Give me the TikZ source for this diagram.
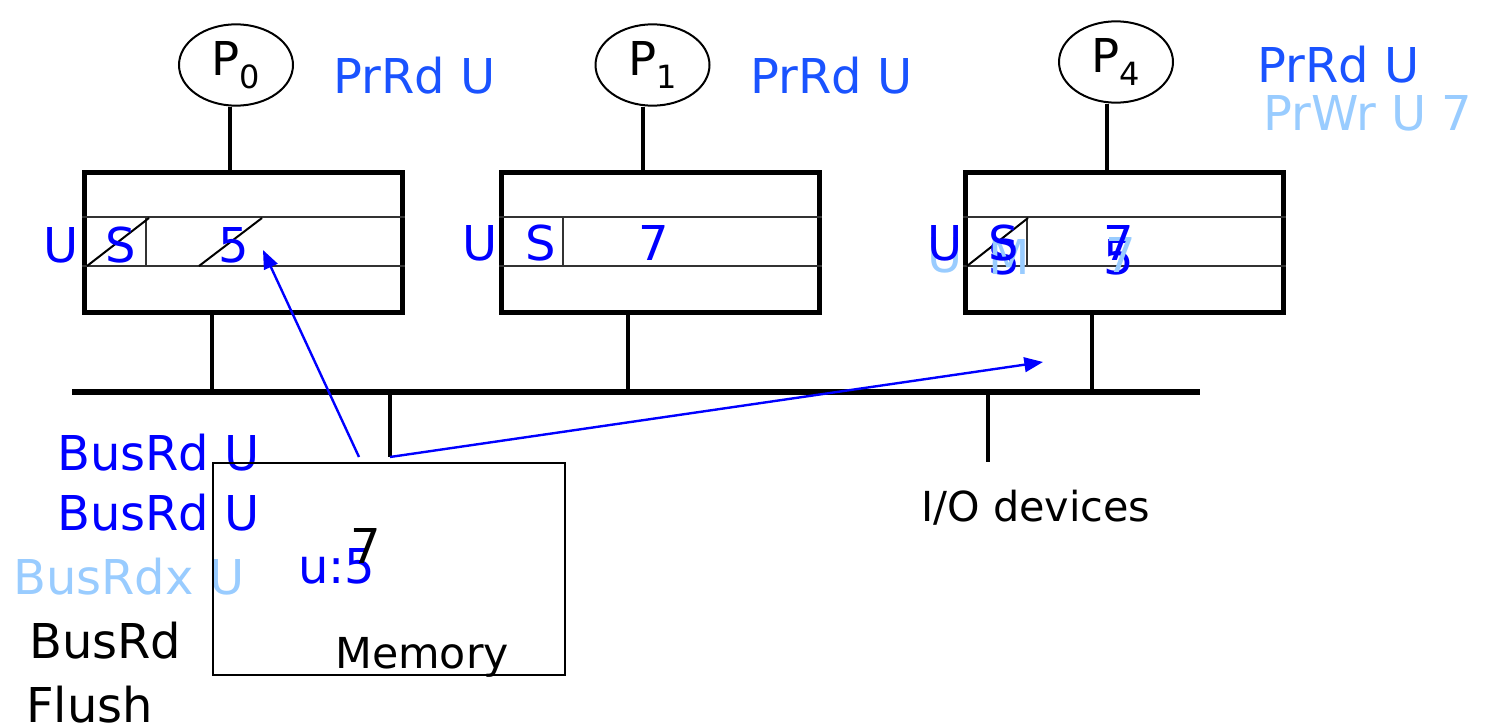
\documentclass[tikz,border=0pt]{standalone}
\usepackage{fontspec}
\setmainfont{DejaVu Sans}
\usetikzlibrary{shapes.geometric,arrows.meta}
\definecolor{stblue}{HTML}{0000FF}
\definecolor{opblue}{HTML}{1A53FF}
\definecolor{oldblue}{HTML}{99CCFF}
\newcommand{\psub}[1]{\raisebox{-9.75pt}{\fontsize{24}{26}\selectfont #1}}
\tikzset{
  proc/.style={draw,ellipse,line width=1.5pt,minimum width=85.5pt,minimum height=61pt,inner sep=0pt,font=\fontsize{35}{37}\selectfont},
  cache/.style={draw,line width=4pt,minimum width=238.5pt,minimum height=105pt,inner sep=0pt},
  cacherow/.style={line width=1.5pt,black!80},
  wire/.style={line width=3pt},
  busline/.style={line width=4.5pt},
  txt/.style={anchor=base west,inner sep=0pt,font=\fontsize{36}{40}\selectfont},
  snoop/.style={-{Triangle[length=14pt,width=11pt]},stblue,line width=1.8pt},
}

\begin{document}
\begin{tikzpicture}[x=0.75pt,y=-0.75pt]
  \useasboundingbox (0,0) rectangle (1486,728);

  \node[proc] (p0) at (236,65) {P\psub{0}};
  \node[proc] (p1) at (652.5,65) {P\psub{1}};
  \node[proc] (p4) at (1116,62) {P\psub{4}};

  \node[cache] (c0) at (243.5,242.5) {};
  \node[cache] (c1) at (660.5,242.5) {};
  \node[cache] (c4) at (1124.5,242.5) {};

  \foreach \c in {c0,c1,c4}{
    \path (\c.west) ++(64,0) coordinate (\c d);
    \draw[cacherow] (\c.west |- 0,217) -- (\c.east |- 0,217);
    \draw[cacherow] (\c.west |- 0,266) -- (\c.east |- 0,266);
    \draw[cacherow] (\c d |- 0,217) -- (\c d |- 0,266);
  }
  \draw[cacherow,black] (87,266) -- (149,218);
  \draw[cacherow,black] (199,266) -- (262,218);
  \draw[cacherow,black] (967,266) -- (1028,218);

  \draw[wire] (p0.south -| 230,0) -- (c0.north -| 230,0);
  \draw[wire] (p1.south -| 643,0) -- (c1.north -| 643,0);
  \draw[wire] (p4.south -| 1107,0) -- (c4.north -| 1107,0);

  \node[txt,opblue] (rd0) at (333,93) {PrRd U};
  \node[txt,opblue] (rd1) at (750,93) {PrRd U};
  \node[txt,opblue] (rd4) at (1257,82) {PrRd U};
  \node[txt,oldblue] (wr4) at (1263,130) {PrWr U 7};

  \node[txt,stblue] (u0) at (43,262) {U};
  \node[txt,stblue] (s0) at (105,262) {S};
  \node[txt,stblue] (v0) at (218,262) {5};
  \node[txt,stblue] (u1) at (462,260) {U};
  \node[txt,stblue] (s1) at (525,260) {S};
  \node[txt,stblue] (v1) at (638,260) {7};

  \node[txt,stblue] (s4old) at (988,274) {S};
  \node[txt,stblue] (v4old) at (1103,274) {5};
  \node[txt,oldblue] (u4new) at (927,272) {U};
  \node[txt,oldblue] (m4new) at (988,274) {M};
  \node[txt,oldblue] (v4new) at (1105,272) {7};
  \node[txt,stblue] (u4) at (927,260) {U};
  \node[txt,stblue] (s4) at (988,260) {S};
  \node[txt,stblue] (v4) at (1103,260) {7};

  \coordinate (busL) at (72,392);
  \coordinate (busR) at (1200,392);
  \coordinate (b0) at (212,392);
  \coordinate (b1) at (628,392);
  \coordinate (b4) at (1092,392);
  \coordinate (bm) at (390,392);
  \coordinate (bio) at (988,392);
  \coordinate (mtap) at (390,457);
  \coordinate (iotap) at (988,462);
  \draw[busline] (busL) -- (busR);
  \draw[wire] (c0.south -| b0) -- (b0);
  \draw[wire] (c1.south -| b1) -- (b1);
  \draw[wire] (c4.south -| b4) -- (b4);
  \draw[wire] (bm) -- (mtap);
  \draw[wire] (bio) -- (iotap);

  \node[txt,font=\fontsize{31}{34}\selectfont] (io) at (921,521) {I/O devices};

  \node[txt,stblue] (br1) at (57,470) {BusRd U};
  \node[txt,stblue] (br2) at (57,530) {BusRd U};
  \node[txt,oldblue] (brx) at (13,594) {BusRdx U};
  \node[txt] (br3) at (29,658) {BusRd};
  \node[txt] (fl) at (26,722) {Flush};

  \node[draw,line width=1.3pt,minimum width=264pt,minimum height=159pt,inner sep=0pt] (mem) at (389,569) {};
  \node[txt,font=\fontsize{32}{34}\selectfont] (memlbl) at (335,668) {Memory};
  \node[txt,stblue] (uval) at (298,583) {u:5};
  \node[txt] (unew) at (350,563) {7};

  \coordinate (rdsrc) at (359,457);
  \coordinate (c0hit) at (263,250);
  \coordinate (c4hit) at (1043,362);
  \draw[snoop] (rdsrc) -- (c0hit);
  \draw[snoop] (mtap) -- (c4hit);
\end{tikzpicture}
\end{document}
